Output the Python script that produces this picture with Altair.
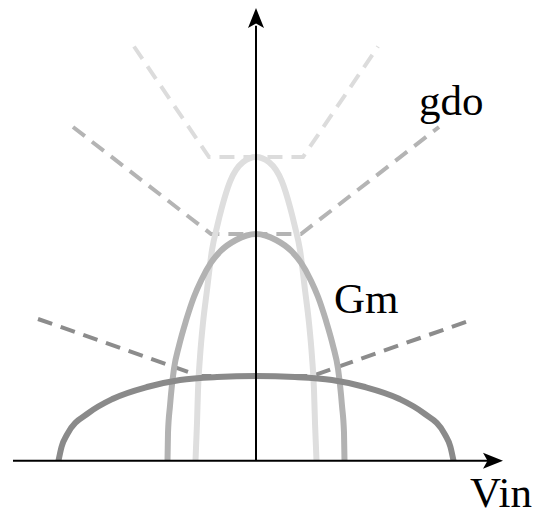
import altair as alt
import pandas as pd

# Gm(Vin) curves for three bias settings (right half; each curve is symmetric about Vin = 0)
light_vin = [0, 0.065, 0.13, 0.17, 0.195, 0.22, 0.245, 0.265, 0.28, 0.29, 0.295, 0.3025]
light_gm = [3.037, 2.985, 2.79, 2.537, 2.337, 2.107, 1.707, 1.377, 1.037, 0.707, 0.377, 0.0]

medium_vin = [0, 0.10, 0.175, 0.225, 0.275, 0.31, 0.35, 0.385, 0.41, 0.43, 0.44, 0.4425]
medium_gm = [2.267, 2.207, 2.10, 1.98, 1.80, 1.64, 1.40, 1.15, 0.92, 0.55, 0.28, 0.0]

dark_vin = [0, 0.195, 0.38, 0.545, 0.715, 0.835, 0.945, 0.972, 0.9875]
dark_gm = [0.847, 0.837, 0.807, 0.737, 0.62, 0.48, 0.26, 0.14, 0.0]

# gdo: flat near zero, then rising linearly (break point, end point)
gdo_flat = {"light": 3.037, "medium": 2.267, "dark": 0.847}
gdo_break = {"light": 0.235, "medium": 0.225, "dark": 0.28}
gdo_end_vin = {"light": 0.61, "medium": 0.915, "dark": 1.09}
gdo_end_gm = {"light": 4.142, "medium": 3.337, "dark": 1.417}

curve_colors = {"light": "#dedede", "medium": "#b2b2b2", "dark": "#8a8a8a"}
dash_colors = {"light": "#dcdcdc", "medium": "#b4b4b4", "dark": "#8c8c8c"}

labels = ["gdo", "Gm", "Vin"]
label_vin = [0.815, 0.39, 1.07]
label_gm = [3.457, 1.477, -0.463]

xs = alt.Scale(domain=[-1.28, 1.42], nice=False, zero=False)
ys = alt.Scale(domain=[-0.503, 4.607], nice=False, zero=False)


def mirrored(vin, gm):
    left = [(-v, g) for v, g in zip(vin[::-1], gm[::-1]) if v != 0]
    right = list(zip(vin, gm))
    pts = left + right
    return pd.DataFrame({"Vin": [p[0] for p in pts], "Gm": [p[1] for p in pts],
                         "i": list(range(len(pts)))})


def curve(name, vin, gm):
    return alt.Chart(mirrored(vin, gm)).mark_line(
        interpolate="monotone", strokeWidth=6, color=curve_colors[name]
    ).encode(
        x=alt.X("Vin:Q", scale=xs, axis=None),
        y=alt.Y("Gm:Q", scale=ys, axis=None),
        order=alt.Order("i:Q"),
    )


def gdo(name):
    df = pd.DataFrame({
        "Vin": [-gdo_end_vin[name], -gdo_break[name], gdo_break[name], gdo_end_vin[name]],
        "Gm": [gdo_end_gm[name], gdo_flat[name], gdo_flat[name], gdo_end_gm[name]],
        "i": [0, 1, 2, 3],
    })
    return alt.Chart(df).mark_line(
        strokeWidth=4, strokeDash=[15, 9], color=dash_colors[name]
    ).encode(
        x=alt.X("Vin:Q", scale=xs, axis=None),
        y=alt.Y("Gm:Q", scale=ys, axis=None),
        order=alt.Order("i:Q"),
    )


# coordinate axes with arrow heads
xaxis = alt.Chart(pd.DataFrame({"a": [-1.215], "b": [1.195], "y": [0.0]})).mark_rule(
    color="black", strokeWidth=2
).encode(x=alt.X("a:Q", scale=xs, axis=None), x2="b:Q", y=alt.Y("y:Q", scale=ys, axis=None))

yaxis = alt.Chart(pd.DataFrame({"x": [0.0], "a": [0.0], "b": [4.35]})).mark_rule(
    color="black", strokeWidth=2
).encode(x=alt.X("x:Q", scale=xs, axis=None), y=alt.Y("a:Q", scale=ys, axis=None), y2="b:Q")

arrow_right = alt.Chart(pd.DataFrame({"x": [1.185], "y": [0.0]})).mark_point(
    shape="M1,0 L-1,-0.8 L-0.55,0 L-1,0.8 Z", size=400, filled=True, color="black", opacity=1
).encode(x=alt.X("x:Q", scale=xs, axis=None), y=alt.Y("y:Q", scale=ys, axis=None))

arrow_up = alt.Chart(pd.DataFrame({"x": [0.0], "y": [4.427]})).mark_point(
    shape="M0,-1 L-0.8,1 L0,0.55 L0.8,1 Z", size=400, filled=True, color="black", opacity=1
).encode(x=alt.X("x:Q", scale=xs, axis=None), y=alt.Y("y:Q", scale=ys, axis=None))

text = alt.Chart(pd.DataFrame({"t": labels, "x": label_vin, "y": label_gm})).mark_text(
    font="Liberation Serif", fontSize=43, align="left", baseline="alphabetic", color="black"
).encode(x=alt.X("x:Q", scale=xs, axis=None), y=alt.Y("y:Q", scale=ys, axis=None), text="t:N")

chart = alt.layer(
    gdo("light"), gdo("medium"), gdo("dark"),
    curve("light", light_vin, light_gm),
    curve("medium", medium_vin, medium_gm),
    curve("dark", dark_vin, dark_gm),
    xaxis, yaxis, arrow_right, arrow_up, text,
).properties(
    width=540, height=511, padding=0, autosize="none", background="white"
).configure_view(strokeWidth=0)

chart.save("out.html", embed_options={"renderer": "svg", "actions": False})
